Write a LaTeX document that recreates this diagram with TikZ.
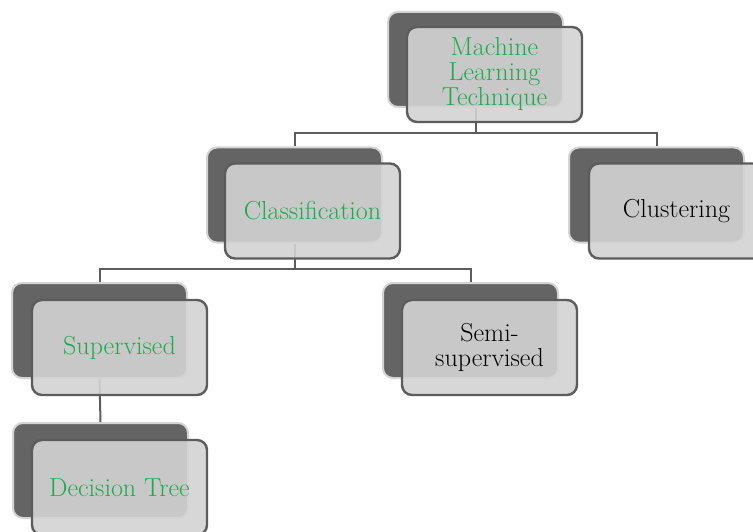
\documentclass[tikz,border=0pt]{standalone}
\usepackage{tikz}
\definecolor{backgray}{RGB}{100,100,100}
\definecolor{rimgray}{RGB}{212,212,212}
\definecolor{frontgray}{RGB}{211,211,211}
\definecolor{edgegray}{RGB}{92,92,92}
\definecolor{leafgreen}{RGB}{30,170,80}

\begin{document}
\begin{tikzpicture}[x=1pt,y=-1pt,
  backbox/.style={draw=rimgray,line width=2pt,fill=backgray,rounded corners=10pt,
    minimum width=175pt,minimum height=95pt},
  frontbox/.style={draw=edgegray,line width=2.4pt,fill=frontgray,fill opacity=0.9,
    draw opacity=1,text opacity=1,rounded corners=10pt,minimum width=175pt,
    minimum height=95pt,align=center,font=\rmfamily\fontsize{26}{25}\selectfont},
  conn/.style={draw=edgegray,line width=2pt}]
\useasboundingbox (0,0) rectangle (753,532);

% Rows of the tree lines
\coordinate (row1) at (0,133);
\coordinate (row2) at (0,269);

% Back boxes
\node[backbox] (mlb) at (475.5,59.5) {};
\node[backbox] (clab) at (294.5,195) {};
\node[backbox] (club) at (656.5,195) {};
\node[backbox] (supb) at (99.5,330.5) {};
\node[backbox] (semb) at (470.5,330.5) {};
\node[backbox] (dtb) at (100.5,470.5) {};

% Tree lines (behind the front boxes)
\draw[conn] (mlb.south) -- (mlb.south |- row1) -| (clab.north);
\draw[conn] (mlb.south |- row1) -| (club.north);
\draw[conn] (clab.south) -- (clab.south |- row2) -| (supb.north);
\draw[conn] (clab.south |- row2) -| (semb.north);
\draw[conn] (supb.south) -- (dtb.north);

% Front boxes
\node[frontbox,text=leafgreen] (ml) at ([shift={(19,15)}]mlb) {Machine\\Learning\\Technique};
\node[frontbox,text=leafgreen] (cla) at ([shift={(18,16)}]clab) {Classification};
\node[frontbox] (clu) at ([shift={(20,16)}]club) {Clustering};
\node[frontbox,text=leafgreen] (sup) at ([shift={(20,17)}]supb) {Supervised};
\node[frontbox] (sem) at ([shift={(19,17)}]semb) {Semi-\\supervised};
\node[frontbox,text=leafgreen] (dt) at ([shift={(19,17)}]dtb) {Decision Tree};
\end{tikzpicture}
\end{document}
